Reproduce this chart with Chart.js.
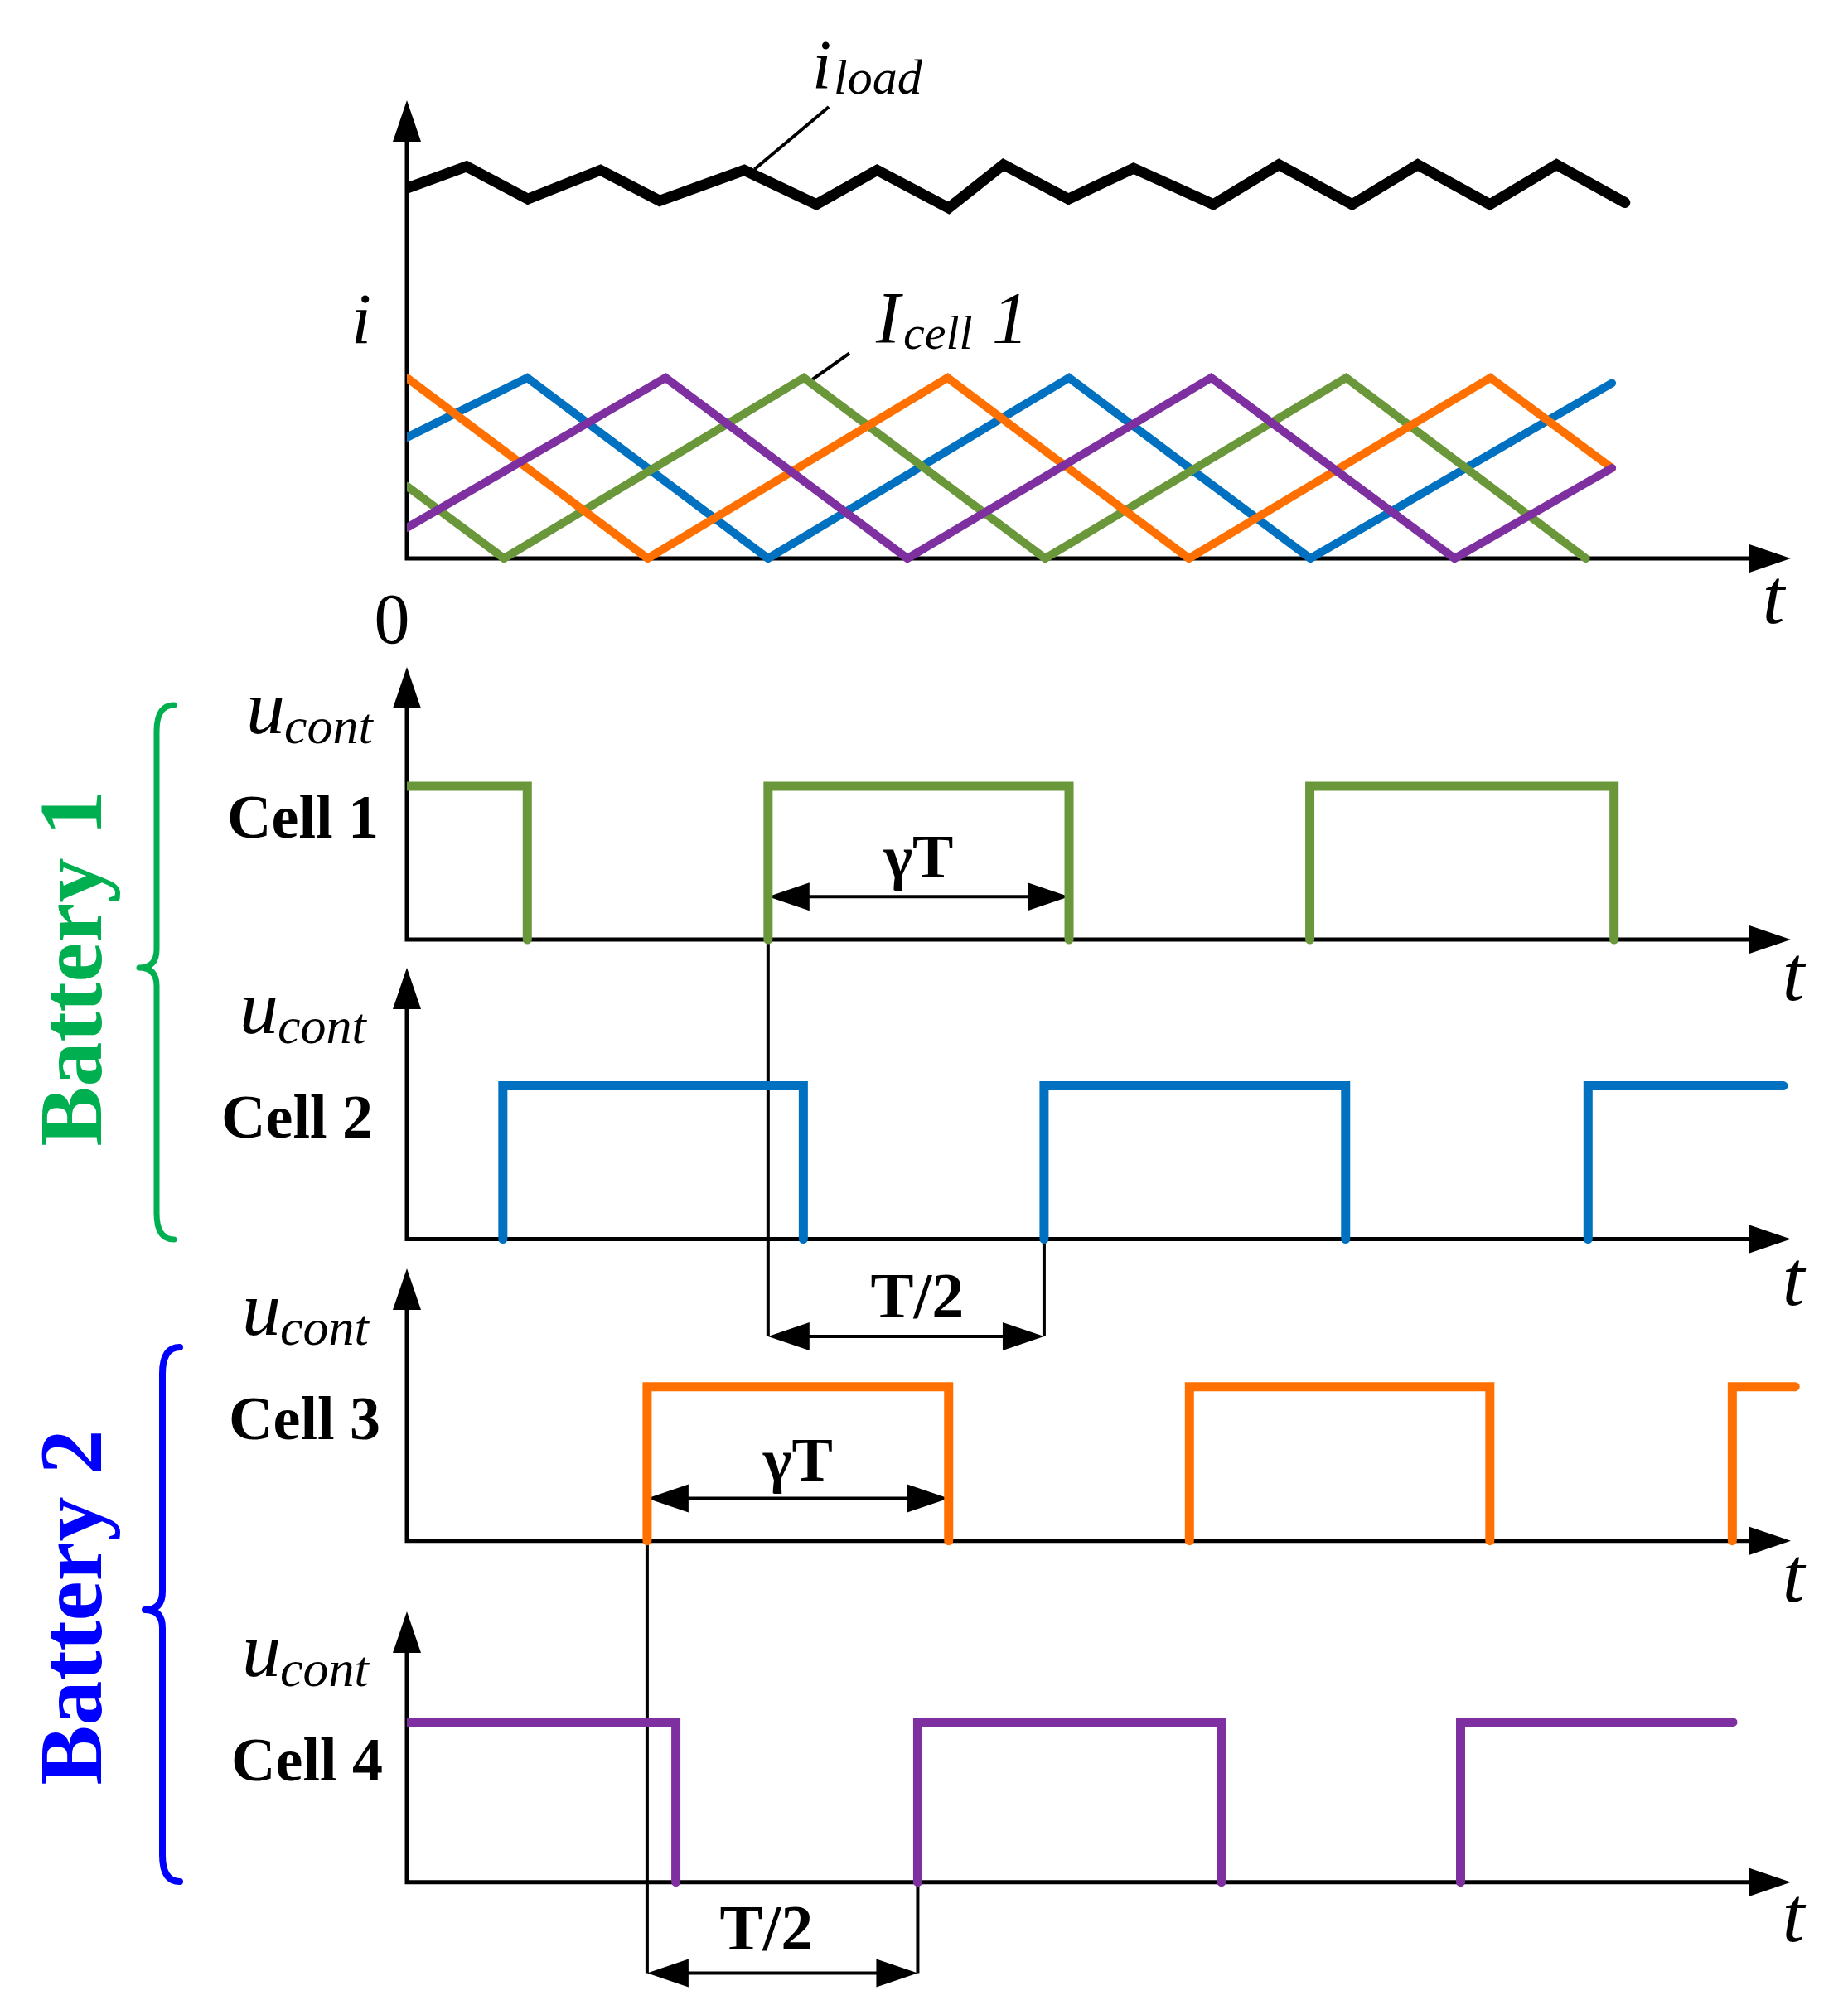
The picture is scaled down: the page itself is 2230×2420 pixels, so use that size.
<!DOCTYPE html>
<html><head><meta charset="utf-8">
<script src="https://cdn.jsdelivr.net/npm/chart.js@4.4.0/dist/chart.umd.min.js"></script>
<style>html,body{margin:0;padding:0;background:#fff;}canvas{display:block;}</style>
</head><body>
<canvas id="c" width="2230" height="2420"></canvas>
<script>
// ===== DATA (time t in units where the carrier period T = 10) =====
// load current i_load (zig-zag)
const loadT = [0, 1.10, 2.23, 3.57, 4.66, 6.22, 7.55, 8.67, 9.99, 11.0, 12.2, 13.4, 14.87, 16.08, 17.43, 18.64, 19.97, 21.2, 22.46];
const loadI = [2.05, 2.17, 1.99, 2.15, 1.98, 2.15, 1.96, 2.15, 1.94, 2.18, 1.99, 2.16, 1.96, 2.18, 1.96, 2.18, 1.96, 2.18, 1.97];

// cell currents (triangular carriers), peak = 1
const blueT   = [0, 2.22, 6.66, 12.21, 16.66, 22.22];
const blueI   = [0.67, 1, 0, 1, 0, 0.97];
const greenT  = [0, 1.79, 7.32, 11.77, 17.32, 21.74];
const greenI  = [0.40, 0, 1, 0, 1, 0];
const orangeT = [0, 4.44, 9.97, 14.42, 19.98, 22.22];
const orangeI = [1, 0, 1, 0, 1, 0.50];
const purpleT = [0, 4.77, 9.23, 14.83, 19.32, 22.22];
const purpleI = [0.17, 1, 0, 1, 0, 0.50];

// gate signals u_cont: switching instants and level after each instant
const cell1Edges  = [0, 2.22, 6.66, 12.21, 16.65, 22.26];
const cell1Levels = [1, 0, 1, 0, 1, 0];
const cell1Until  = null;
const cell2Edges  = [1.77, 7.31, 11.75, 17.31, 21.78];
const cell2Levels = [1, 0, 1, 0, 1];
const cell2Until  = 25.38;
const cell3Edges  = [4.43, 9.99, 14.43, 19.97, 24.44];
const cell3Levels = [1, 0, 1, 0, 1];
const cell3Until  = 25.6;
const cell4Edges  = [0, 4.96, 9.42, 15.02, 19.43];
const cell4Levels = [1, 0, 1, 0, 1];
const cell4Until  = 24.45;

const cellNames = ['Cell 1', 'Cell 2', 'Cell 3', 'Cell 4'];
const batteryNames = ['Battery 1', 'Battery 2'];
const AXIS_END_T = 25.52;

// ===== LAYOUT / STYLE =====
const W = 2230, H = 2420;
const X0 = 491, PX_PER_T = 65.44;
const PANEL_IDS  = ['yI', 'y1', 'y2', 'y3', 'y4'];
const PANEL_BASE = [674, 1134, 1495.5, 1859.7, 2271.7];
const PANEL_UNIT = [218, 185, 185, 186, 193];
const PANEL_TOP  = [121, 805, 1168, 1531, 1945];
const T_LABEL_X  = [2140, 2164, 2164, 2164, 2164];
const T_LABEL_Y  = [752, 1207, 1575, 1933, 2343];
const CELL_LABEL_RIGHT = [457, 450, 459, 462];
const U_LEFT = [297, 289, 292, 292];
const C_GREEN = '#6A9739', C_BLUE = '#0070C0', C_ORANGE = '#FF7000', C_PURPLE = '#7E2FA0';
const SERIF = '"Liberation Serif", "Times New Roman", serif';

function series(ts, vs) { return ts.map((t, i) => ({x: t, y: vs[i]})); }
function gatePoints(edges, levels, until) {
  const pts = [];
  edges.forEach((t, i) => {
    const before = i === 0 ? (t === 0 ? null : 1 - levels[0]) : levels[i - 1];
    if (before !== null) pts.push({x: t, y: before});
    pts.push({x: t, y: levels[i]});
    if (levels[i] === 0) pts.push({x: t, y: null});
  });
  if (levels[levels.length - 1] === 1 && until !== null) pts.push({x: until, y: 1});
  return pts;
}

function arrowHead(ctx, x, y, dx, dy, len = 50, hw = 17) {
  const bx = x - dx * len, by = y - dy * len;
  ctx.beginPath();
  ctx.moveTo(x, y);
  ctx.lineTo(bx - dy * hw, by + dx * hw);
  ctx.lineTo(bx + dy * hw, by - dx * hw);
  ctx.closePath();
  ctx.fill();
}
function dimArrow(ctx, xa, xb, y) {
  ctx.beginPath(); ctx.moveTo(xa + 40, y); ctx.lineTo(xb - 40, y); ctx.stroke();
  arrowHead(ctx, xa, y, -1, 0);
  arrowHead(ctx, xb, y, 1, 0);
}
function vline(ctx, x, y1, y2) { ctx.beginPath(); ctx.moveTo(x, y1); ctx.lineTo(x, y2); ctx.stroke(); }
function brace(ctx, color, lw, spine, end, tip, top, mid, bottom) {
  ctx.strokeStyle = color; ctx.lineWidth = lw; ctx.lineCap = 'round'; ctx.lineJoin = 'round';
  ctx.beginPath();
  ctx.moveTo(end, top);
  ctx.quadraticCurveTo(spine, top, spine, top + 32);
  ctx.lineTo(spine, mid - 22);
  ctx.quadraticCurveTo(spine, mid, tip, mid);
  ctx.quadraticCurveTo(spine, mid, spine, mid + 22);
  ctx.lineTo(spine, bottom - 32);
  ctx.quadraticCurveTo(spine, bottom, end, bottom);
  ctx.stroke();
}
function text(ctx, s, x, y, font, align = 'left', color = '#000') {
  ctx.font = font; ctx.textAlign = align; ctx.textBaseline = 'alphabetic'; ctx.fillStyle = color;
  ctx.fillText(s, x, y);
}

const diagram = {
  id: 'diagram',
  beforeDatasetsDraw(chart) {
    const ctx = chart.ctx, xs = chart.scales.x;
    const X = t => xs.getPixelForValue(t);
    const Y = (i, v) => chart.scales[PANEL_IDS[i]].getPixelForValue(v);
    ctx.save();
    ctx.fillStyle = '#000'; ctx.strokeStyle = '#000';
    // axes with arrows
    PANEL_IDS.forEach((id, i) => {
      const b = Y(i, 0), x0 = X(0), x1 = X(AXIS_END_T), top = PANEL_TOP[i];
      ctx.lineWidth = 5; ctx.lineJoin = 'miter'; ctx.lineCap = 'butt';
      ctx.beginPath(); ctx.moveTo(x0, top + 40); ctx.lineTo(x0, b); ctx.lineTo(x1 - 40, b); ctx.stroke();
      arrowHead(ctx, x0, top, 0, -1);
      arrowHead(ctx, x1, b, 1, 0);
    });
    // dimension lines
    ctx.lineWidth = 4; ctx.lineCap = 'butt';
    const half1Y = 1613, half2Y = 2381.5, gamma1Y = Y(1, 0.28), gamma3Y = Y(3, 0.275);
    vline(ctx, X(cell1Edges[2]), Y(1, 0), half1Y);
    vline(ctx, X(cell2Edges[2]), Y(2, 0), half1Y);
    dimArrow(ctx, X(cell1Edges[2]), X(cell2Edges[2]), half1Y);
    dimArrow(ctx, X(cell1Edges[2]), X(cell1Edges[3]), gamma1Y);
    dimArrow(ctx, X(cell3Edges[0]), X(cell3Edges[1]), gamma3Y);
    vline(ctx, X(cell3Edges[0]), Y(3, 0), half2Y);
    vline(ctx, X(cell4Edges[2]), Y(4, 0), half2Y);
    dimArrow(ctx, X(cell3Edges[0]), X(cell4Edges[2]), half2Y);
    // label leaders
    ctx.beginPath(); ctx.moveTo(X(7.78), Y(0, 2.50)); ctx.lineTo(X(6.41), Y(0, 2.155)); ctx.stroke();
    ctx.beginPath(); ctx.moveTo(X(8.16), Y(0, 1.136)); ctx.lineTo(X(7.48), Y(0, 0.991)); ctx.stroke();
    ctx.restore();
  },
  afterDatasetsDraw(chart) {
    const ctx = chart.ctx, xs = chart.scales.x;
    const X = t => xs.getPixelForValue(t);
    const Y = (i, v) => chart.scales[PANEL_IDS[i]].getPixelForValue(v);
    ctx.save();
    // top panel labels
    text(ctx, 'i', 424, 414, `italic 86px ${SERIF}`);
    text(ctx, '0', 473, 776, `86px ${SERIF}`, 'center');
    text(ctx, 'i', 980, 107, `italic 84px ${SERIF}`);
    text(ctx, 'load', 1006, 113, `italic 60px ${SERIF}`);
    text(ctx, 'I', 1057, 413, `italic 88px ${SERIF}`);
    text(ctx, 'cell', 1090, 421, `italic 58px ${SERIF}`);
    text(ctx, '1', 1197, 413, `italic 88px ${SERIF}`);
    // t labels
    PANEL_IDS.forEach((id, i) => text(ctx, 't', T_LABEL_X[i], T_LABEL_Y[i], `italic 96px ${SERIF}`, 'center'));
    // cell labels
    cellNames.forEach((name, k) => {
      const b = Y(k + 1, 0);
      text(ctx, 'u', U_LEFT[k], b - 249, `italic 94px ${SERIF}`);
      text(ctx, 'cont', U_LEFT[k] + 46, b - 237, `italic 62px ${SERIF}`);
      text(ctx, name, CELL_LABEL_RIGHT[k], b - 123, `bold 74px ${SERIF}`, 'right');
    });
    // dimension texts
    text(ctx, 'γT', X((cell1Edges[2] + cell1Edges[3]) / 2), Y(1, 0.405), `bold 74px ${SERIF}`, 'center');
    text(ctx, 'γT', X((cell3Edges[0] + cell3Edges[1]) / 2), Y(3, 0.39), `bold 74px ${SERIF}`, 'center');
    text(ctx, 'T/2', X(9.41), 1590, `bold 78px ${SERIF}`, 'center');
    text(ctx, 'T/2', X(6.63), 2353, `bold 78px ${SERIF}`, 'center');
    // batteries
    const bats = [{y: 1169, color: '#00B050'}, {y: 1940, color: '#0000FF'}];
    bats.forEach((bt, k) => {
      ctx.save(); ctx.translate(122, bt.y); ctx.rotate(-Math.PI / 2);
      text(ctx, batteryNames[k], 0, 0, `bold 108px ${SERIF}`, 'center', bt.color);
      ctx.restore();
    });
    brace(ctx, '#00B050', 7, 189, 210, 168, 851, 1168, 1496);
    brace(ctx, '#0000FF', 8, 196, 217, 175, 1626, 1943, 2271);
    ctx.restore();
  }
};

function yScale(i) {
  const b = PANEL_BASE[i], u = PANEL_UNIT[i];
  return {type: 'linear', display: false, bounds: 'data', min: -(H - b) / u, max: b / u};
}
const scales = {x: {type: 'linear', display: false, bounds: 'data', min: 0, max: (W - X0) / PX_PER_T}};
PANEL_IDS.forEach((id, i) => { scales[id] = yScale(i); });

const ds = (data, axis, color, width) => ({data, yAxisID: axis, borderColor: color, borderWidth: width});

new Chart(document.getElementById('c'), {
  type: 'line',
  data: {
    datasets: [
      ds(series(loadT, loadI), 'yI', '#000000', 13),
      ds(series(purpleT, purpleI), 'yI', C_PURPLE, 10),
      ds(series(orangeT, orangeI), 'yI', C_ORANGE, 10),
      ds(series(greenT, greenI), 'yI', C_GREEN, 10),
      ds(series(blueT, blueI), 'yI', C_BLUE, 10),
      ds(gatePoints(cell1Edges, cell1Levels, cell1Until), 'y1', C_GREEN, 11),
      ds(gatePoints(cell2Edges, cell2Levels, cell2Until), 'y2', C_BLUE, 11),
      ds(gatePoints(cell3Edges, cell3Levels, cell3Until), 'y3', C_ORANGE, 11),
      ds(gatePoints(cell4Edges, cell4Levels, cell4Until), 'y4', C_PURPLE, 11)
    ]
  },
  options: {
    responsive: false, animation: false, devicePixelRatio: 1, events: [],
    layout: {autoPadding: false, padding: {left: X0, right: 0, top: 0, bottom: 0}},
    elements: {
      line: {tension: 0, fill: false, borderCapStyle: 'round', borderJoinStyle: 'miter', spanGaps: false},
      point: {radius: 0, hoverRadius: 0}
    },
    scales,
    plugins: {legend: {display: false}, tooltip: {enabled: false}}
  },
  plugins: [diagram]
});
</script>
</body></html>
